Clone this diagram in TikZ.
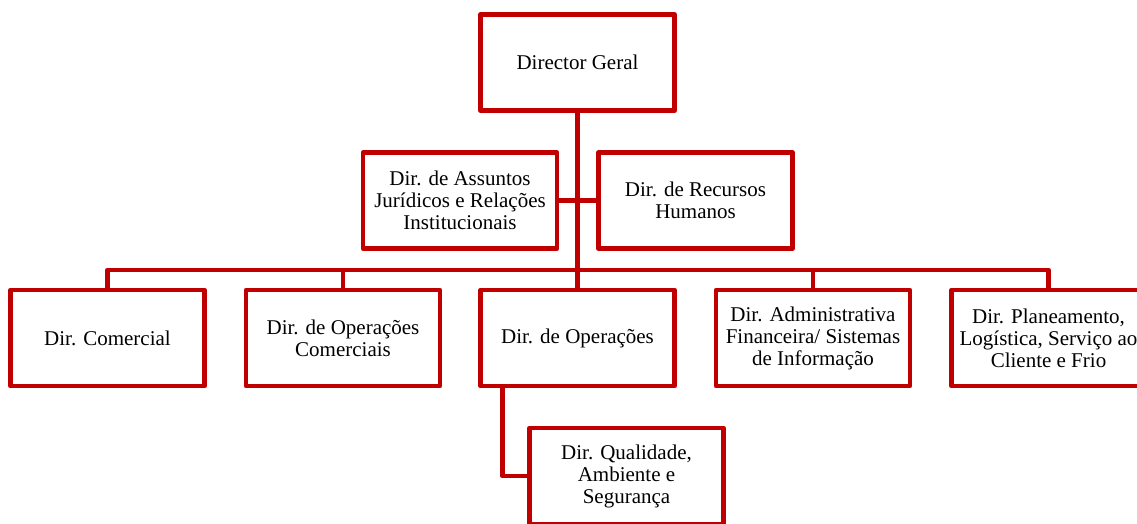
\documentclass[tikz,border=0pt]{standalone}
\usepackage{fontspec}
\setmainfont{Liberation Serif}
\definecolor{orgred}{HTML}{C00000}
\begin{document}
\begin{tikzpicture}[x=1pt,y=-1pt,
  unit/.style={draw=orgred, line width=4.5pt, line join=round, fill=white,
    minimum width=194pt, minimum height=96pt, inner sep=0pt, align=center,
    font=\fontsize{21}{22}\selectfont},
  link/.style={draw=orgred, line width=4.5pt, line join=round}]
\useasboundingbox (0,0) rectangle (1137,523);
\clip (0,0) rectangle (1137,523);

% connectors (drawn first, boxes cover the ends)
\coordinate (bus) at (578,270);
\coordinate (trunk) at (578,200.5);

% boxes
\node[unit] (dg)   at (577.5,62.5) {Director Geral};
\node[unit] (ajr)  at (460,200.5)  {Dir. de Assuntos\\Jurídicos e Relações\\Institucionais};
\node[unit] (rh)   at (695.5,200.5){Dir. de Recursos\\Humanos};
\node[unit] (com)  at (107.5,338)  {Dir. Comercial};
\node[unit] (opc)  at (343,338)    {Dir. de Operações\\Comerciais};
\node[unit] (op)   at (577.5,338)  {Dir. de Operações};
\node[unit] (adm)  at (813,338)    {Dir. Administrativa\\Financeira/ Sistemas\\de Informação};
\node[unit] (plan) at (1048.5,338) {Dir. Planeamento,\\Logística, Serviço ao\\Cliente e Frio};
\node[unit] (qas)  at (626.5,476)  {Dir. Qualidade,\\Ambiente e\\Segurança};

% hierarchy lines
\draw[link] (dg.south) -- (op.north);
\draw[link] (ajr.east) -- (rh.west);
\draw[link] (com.north) |- (bus) -| (plan.north);
\draw[link] (opc.north) -- (opc.north |- bus);
\draw[link] (adm.north) -- (adm.north |- bus);
\draw[link] ([xshift=24pt]op.south west) |- (qas.west);
\end{tikzpicture}
\end{document}
